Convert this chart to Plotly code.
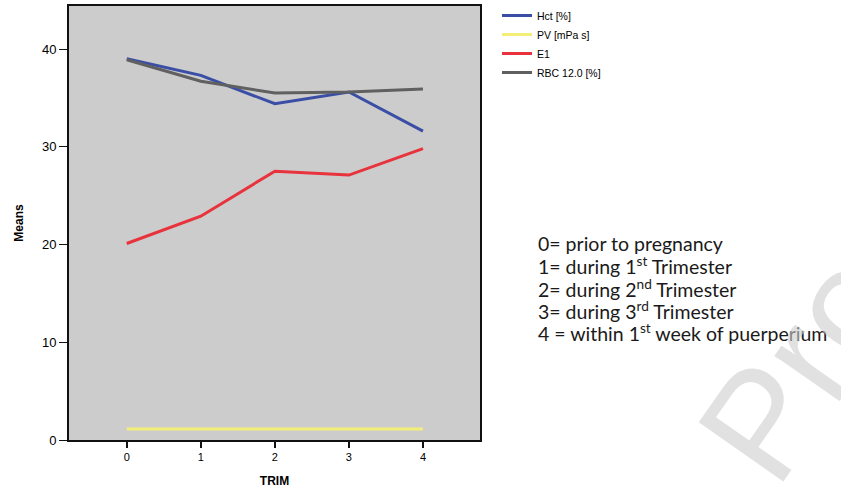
import plotly.graph_objects as go

trim = [0, 1, 2, 3, 4]
hct = [39.0, 37.3, 34.4, 35.6, 31.6]
pv = [1.13, 1.13, 1.12, 1.12, 1.12]
e1 = [20.1, 22.9, 27.5, 27.1, 29.8]
rbc = [38.9, 36.7, 35.5, 35.6, 35.9]

series_names = ["Hct [%]", "PV [mPa s]", "E1", "RBC 12.0 [%]"]
series_vals = [hct, pv, e1, rbc]
colors = ["#3b4ea6", "#f2ee78", "#e8323c", "#606060"]

legend_lines = [
    "0= prior to pregnancy",
    "1= during 1<sup>st</sup> Trimester",
    "2= during 2<sup>nd</sup> Trimester",
    "3= during 3<sup>rd</sup> Trimester",
    "4 = within 1<sup>st</sup> week of puerperium",
]

fig = go.Figure()
for name, vals, c in zip(series_names, series_vals, colors):
    fig.add_trace(go.Scatter(x=trim, y=vals, mode="lines", name=name,
                             line=dict(color=c, width=3)))

fig.update_layout(
    width=841, height=496,
    margin=dict(l=69, r=361, t=6, b=56, autoexpand=False),
    paper_bgcolor="white", plot_bgcolor="#cccccc",
    font=dict(family="Liberation Sans, Arial", color="#000000"),
    showlegend=True,
    legend=dict(x=497 / 841, y=1 - 1 / 496, xref="container", yref="container",
                xanchor="left", yanchor="top",
                font=dict(size=10.5), tracegroupgap=0, itemwidth=30,
                bgcolor="rgba(0,0,0,0)"),
    xaxis=dict(range=[-0.78, 4.77], tickvals=trim, ticktext=[str(t) for t in trim],
               showgrid=False, zeroline=False, showline=True, linecolor="#111111",
               linewidth=2, mirror=True, ticks="outside", ticklen=6, tickwidth=2,
               tickcolor="#111111", tickfont=dict(size=11), automargin=False,
               title=dict(text="<b>TRIM</b>", font=dict(size=12), standoff=14)),
    yaxis=dict(range=[0, 44.4], tickvals=[0, 10, 20, 30, 40],
               showgrid=False, zeroline=False, showline=True, linecolor="#111111",
               linewidth=2, mirror=True, ticks="outside", ticklen=8, tickwidth=1,
               tickcolor="#111111", tickfont=dict(size=13), automargin=False,
               title=dict(text="<b>Means</b>", font=dict(size=12), standoff=16)),
)

plot_top, plot_bottom = 6, 440
row_px = [243, 265, 288, 310, 332]
for txt, ypx in zip(legend_lines, row_px):
    fig.add_annotation(
        text=txt, xref="paper", yref="paper",
        x=(536 - 69) / 411, y=(plot_bottom - ypx) / (plot_bottom - plot_top),
        xanchor="left", yanchor="middle", align="left", showarrow=False,
        font=dict(family="Lato, Open Sans", size=19.5, color="#1a1a1a"),
    )

fig.add_annotation(
    text="Pro", xref="paper", yref="paper", x=1.78, y=0.17,
    xanchor="center", yanchor="middle", showarrow=False, textangle=-55,
    font=dict(family="Liberation Sans", size=150, color="rgba(205,205,205,0.6)"),
)

fig.write_html("out.html", config={"displayModeBar": False},
               post_script="document.body.style.margin='0px';")
